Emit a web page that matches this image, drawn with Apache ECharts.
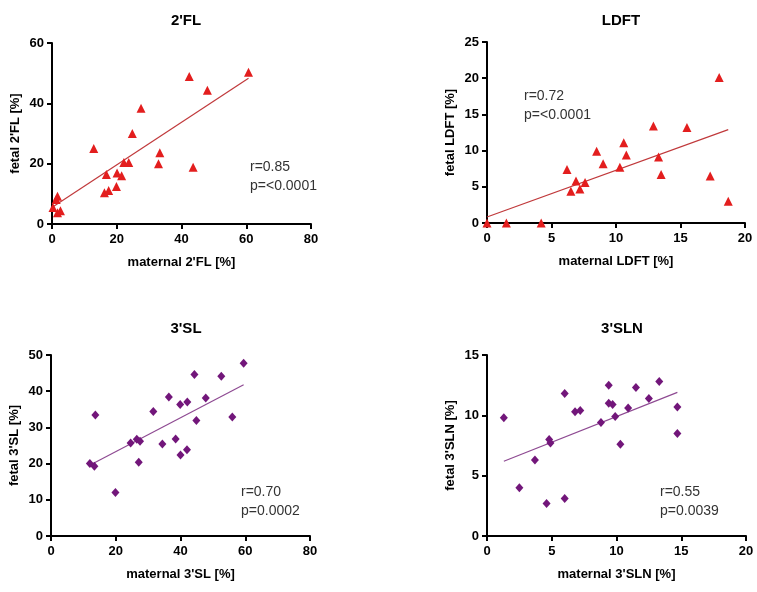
<!DOCTYPE html>
<html><head><meta charset="utf-8">
<script src="https://cdn.jsdelivr.net/npm/echarts@6/dist/echarts.min.js"></script>
<style>html,body{margin:0;padding:0;background:#fff}#c{width:757px;height:592px}</style>
</head><body><div id="c"></div>
<script>
// ---- data ----
const flMaternal = [0.3,1.3,1.7,1.7,2.6,12.9,16.8,16.2,17.5,19.9,20.1,21.5,22.2,23.7,24.8,27.5,32.9,33.3,42.4,43.6,48.0,60.7];
const flFetal    = [5.5,8.1,9.2,3.7,4.4,25.0,16.4,10.4,11.1,12.4,16.9,16.0,20.4,20.4,30.0,38.4,20.0,23.6,48.9,18.8,44.3,50.3];
const flLineX = [0.2, 60.7];
const flLineY = [5.6, 48.3];

const ldftMaternal = [0,1.5,4.2,6.2,6.5,6.9,7.2,7.6,8.5,9.0,10.3,10.6,10.8,12.9,13.3,13.5,15.5,17.3,18.0,18.7];
const ldftFetal    = [0,0,0,7.4,4.4,5.8,4.7,5.6,9.9,8.2,7.7,11.1,9.4,13.4,9.1,6.7,13.2,6.5,20.1,3.0];
const ldftLineX = [0, 18.7];
const ldftLineY = [0.83, 12.9];

const slMaternal = [12.0,13.4,13.7,19.9,24.6,26.5,27.5,27.1,31.6,34.4,36.4,38.5,39.9,40.0,42.1,42.0,44.3,44.9,47.8,52.6,56.0,59.5];
const slFetal    = [20.0,19.3,33.4,12.0,25.7,26.7,26.2,20.4,34.4,25.4,38.4,26.8,36.3,22.4,37.0,23.8,44.6,31.9,38.1,44.1,32.9,47.7];
const slLineX = [12.7, 59.5];
const slLineY = [19.9, 41.8];

const slnMaternal = [1.3,2.5,3.7,4.6,4.8,4.9,6.0,6.0,6.8,7.2,8.8,9.4,9.4,9.7,9.9,10.3,10.9,11.5,12.5,13.3,14.7,14.7];
const slnFetal    = [9.8,4.0,6.3,2.7,8.0,7.7,11.8,3.1,10.3,10.4,9.4,12.5,11.0,10.9,9.9,7.6,10.6,12.3,11.4,12.8,10.7,8.5];
const slnLineX = [1.3, 14.7];
const slnLineY = [6.2, 11.9];

const panelTitles = ["2'FL", "LDFT", "3'SL", "3'SLN"];
const xNames = ["maternal 2'FL [%]", "maternal LDFT [%]", "maternal 3'SL [%]", "maternal 3'SLN [%]"];
const yNames = ["fetal 2'FL [%]", "fetal LDFT [%]", "fetal 3'SL [%]", "fetal 3'SLN [%]"];
const statsR = ["r=0.85", "r=0.72", "r=0.70", "r=0.55"];
const statsP = ["p=<0.0001", "p=<0.0001", "p=0.0002", "p=0.0039"];
const xMax = [80, 20, 80, 20], xStep = [20, 5, 20, 5];
const yMax = [60, 25, 50, 15], yStep = [20, 5, 10, 5];

// ---- layout / style ----
const grids = [
  {left: 52, top: 43, width: 259, height: 181},
  {left: 487, top: 42, width: 258, height: 181},
  {left: 51, top: 355, width: 259, height: 181},
  {left: 487, top: 355, width: 259, height: 181}
];
const red = '#e31e1e', redLine = '#c0393b', purple = '#72167a', purpleLine = '#8e4a92';
const FONT = 'Liberation Sans';
const pts = [
  [flMaternal, flFetal, flLineX, flLineY, 'triangle', red, redLine],
  [ldftMaternal, ldftFetal, ldftLineX, ldftLineY, 'triangle', red, redLine],
  [slMaternal, slFetal, slLineX, slLineY, 'diamond', purple, purpleLine],
  [slnMaternal, slnFetal, slnLineX, slnLineY, 'diamond', purple, purpleLine]
];
const statsPos = [[245, 153], [519, 82], [236, 478], [655, 478]];
const titleTops = [[181, 8], [616, 8], [181, 316], [617, 316]];

const axisBase = {
  axisLine: {show: true, lineStyle: {color: '#000', width: 2}},
  axisTick: {show: true, inside: false, length: 5, lineStyle: {color: '#000', width: 2}},
  splitLine: {show: false},
  nameTextStyle: {color: '#000', fontWeight: 'bold', fontSize: 13, fontFamily: FONT}
};
const labelStyle = (m) => ({color: '#000', fontWeight: 'bold', fontSize: 13, fontFamily: FONT, margin: m});

const option = {
  animation: false,
  backgroundColor: '#fff',
  title: [],
  grid: grids,
  xAxis: [], yAxis: [], series: []
};
for (let i = 0; i < 4; i++) {
  option.title.push({text: panelTitles[i], left: titleTops[i][0], top: titleTops[i][1], textAlign: 'center',
    textStyle: {fontSize: 15, fontWeight: 'bold', color: '#000', fontFamily: FONT}});
  option.title.push({text: statsR[i] + '\n' + statsP[i], left: statsPos[i][0], top: statsPos[i][1],
    textStyle: {fontSize: 14, fontWeight: 'normal', color: '#333', fontFamily: FONT, lineHeight: 19}});
  option.xAxis.push(Object.assign({}, axisBase, {
    gridIndex: i, type: 'value', min: 0, max: xMax[i], interval: xStep[i],
    axisLabel: labelStyle(9),
    name: xNames[i], nameLocation: 'middle', nameGap: 32
  }));
  option.yAxis.push(Object.assign({}, axisBase, {
    gridIndex: i, type: 'value', min: 0, max: yMax[i], interval: yStep[i],
    axisLabel: labelStyle(8),
    name: yNames[i], nameLocation: 'middle', nameGap: 30
  }));
  const [xs, ys, lx, ly, sym, col, lcol] = pts[i];
  option.series.push({
    type: 'line', xAxisIndex: i, yAxisIndex: i, symbol: 'none', silent: true,
    lineStyle: {color: lcol, width: 1.2}, z: 1,
    data: lx.map((v, k) => [v, ly[k]])
  });
  option.series.push({
    type: 'scatter', xAxisIndex: i, yAxisIndex: i, symbol: sym, symbolSize: sym === 'triangle' ? 9 : [8, 9],
    itemStyle: {color: col, opacity: 1}, z: 2,
    data: xs.map((v, k) => [v, ys[k]])
  });
}
const chart = echarts.init(document.getElementById('c'), null, {renderer: 'canvas'});
chart.setOption(option);
</script></body></html>
